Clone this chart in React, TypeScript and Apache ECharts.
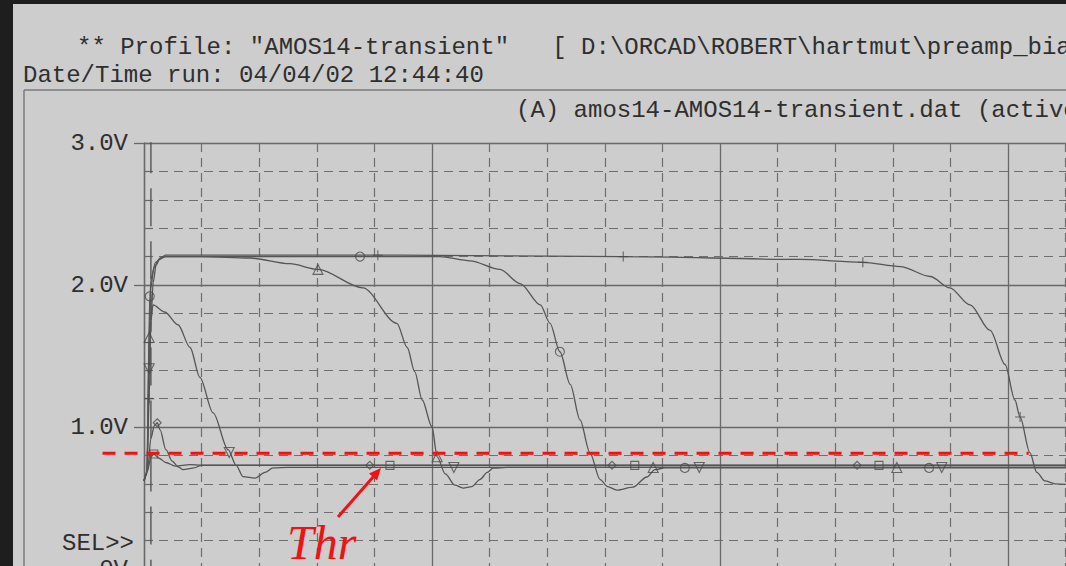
import React, { useEffect, useRef } from "react";
import * as echarts from "echarts";

// ---- axes ----
const TIME_MIN = 0;
const TIME_MAX = 20;
const TIME_MAJOR = 5;
const VOLT_MIN = 0;
const VOLT_MAX = 3;
const VOLT_MAJOR = 1;
const VOLT_MINOR = 0.2;

// ---- header texts ----
const PROFILE_LINE = '** Profile: "AMOS14-transient"   [ D:\\ORCAD\\ROBERT\\hartmut\\preamp_bias ]';
const DATE_LINE = "Date/Time run: 04/04/02 12:44:40";
const PLOT_TITLE = "(A) amos14-AMOS14-transient.dat (active)";
const SEL_LABEL = "SEL>>";
const THR_LABEL = "Thr";

// ---- threshold level (V) and its drawn extent in time ----
const THRESHOLD = 0.815;
const THRESHOLD_SPAN = [-0.72, 15.36];

// ---- traces: [time, volts] ----
const traceTriangle: number[][] = [
  [0, 0.62], [0.05, 0.67], [0.09, 1.63], [0.12, 1.98], [0.17, 2.12], [0.26, 2.18],
  [0.38, 2.2], [1.0, 2.2], [1.84, 2.19], [2.53, 2.15], [3.02, 2.11], [3.8, 1.98],
  [4.39, 1.73], [4.57, 1.56], [4.7, 1.39], [4.83, 1.19], [5.0, 1.0], [5.09, 0.79],
  [5.23, 0.67], [5.4, 0.59], [5.54, 0.57], [5.69, 0.58], [5.83, 0.63], [5.96, 0.68],
  [6.06, 0.71], [6.3, 0.715], [20, 0.715],
];
const traceCircle: number[][] = [
  [0, 0.62], [0.05, 0.67], [0.1, 1.92], [0.13, 2.06], [0.2, 2.16], [0.33, 2.2],
  [3.75, 2.2], [5.14, 2.2], [5.66, 2.17], [6.18, 2.11], [6.53, 2.01], [6.88, 1.86],
  [7.05, 1.73], [7.22, 1.53], [7.4, 1.3], [7.57, 1.05], [7.74, 0.82], [7.92, 0.63],
  [8.05, 0.58], [8.21, 0.556], [8.49, 0.577], [8.73, 0.648], [8.87, 0.7], [9.05, 0.712],
  [20, 0.712],
];
const tracePlus: number[][] = [
  [0, 0.62], [0.05, 0.67], [0.09, 1.2], [0.12, 1.75], [0.16, 2.02], [0.21, 2.14],
  [0.28, 2.19], [0.38, 2.21], [4.44, 2.21], [8.32, 2.2], [11.39, 2.18], [12.48, 2.16],
  [13.13, 2.13], [13.65, 2.06], [13.99, 1.98], [14.34, 1.86], [14.69, 1.68], [14.95, 1.44],
  [15.12, 1.19], [15.21, 1.07], [15.38, 0.82], [15.5, 0.68], [15.64, 0.62], [15.82, 0.6],
  [16.25, 0.59], [20, 0.59],
];
const traceInvTriangle: number[][] = [
  [0, 0.62], [0.05, 0.67], [0.09, 1.41], [0.12, 1.75], [0.156, 1.86], [0.36, 1.81],
  [0.59, 1.72], [0.8, 1.56], [0.97, 1.35], [1.2, 1.1], [1.46, 0.84], [1.6, 0.73],
  [1.72, 0.65], [1.93, 0.64], [2.1, 0.68], [2.24, 0.712], [2.5, 0.715], [20, 0.715],
];
const traceDiamond: number[][] = [
  [0, 0.62], [0.06, 0.69], [0.12, 0.92], [0.18, 1.01], [0.23, 1.03], [0.28, 0.98],
  [0.38, 0.84], [0.49, 0.76], [0.59, 0.72], [0.68, 0.7], [0.85, 0.71], [1.0, 0.73],
  [20, 0.73],
];
const traceSquare: number[][] = [
  [0, 0.62], [0.06, 0.69], [0.12, 0.79], [0.17, 0.81], [0.26, 0.78], [0.38, 0.75],
  [0.54, 0.725], [0.8, 0.735], [1.0, 0.732], [20, 0.732],
];
// stimulus edge, drawn with long dashes
const traceStimulus: number[][] = [
  [0.12, -0.2], [0.12, 3.3],
];

// ---- trace markers: [time, volts] ----
const markTriangle: number[][] = [[0.09, 1.63], [3.02, 2.11], [5.09, 0.79], [8.84, 0.715], [13.07, 0.715]];
const markCircle: number[][] = [[0.1, 1.92], [3.75, 2.2], [7.22, 1.53], [9.39, 0.712], [13.63, 0.712]];
const markInvTriangle: number[][] = [[0.09, 1.41], [1.48, 0.82], [5.38, 0.715], [9.64, 0.715], [13.85, 0.715]];
const markPlus: number[][] = [[0.09, 1.2], [4.06, 2.21], [8.32, 2.2], [12.48, 2.16], [15.21, 1.07]];
const markDiamond: number[][] = [[0.23, 1.03], [3.92, 0.73], [8.125, 0.73], [12.38, 0.73]];
const markSquare: number[][] = [[0.17, 0.81], [4.27, 0.73], [8.52, 0.73], [12.76, 0.73]];

const BG = "#cdcdcd";
const INK = "#2f2f2f";
const GRID_SOLID = "#696969";
const GRID_DASH = "#6f6f6f";
const TRACE = "#555555";
const RED = "#f01212";
const MONO = "'Liberation Mono', 'Courier New', monospace";

function traceSeries(name: string, data: number[][], extra: any = {}) {
  return {
    name,
    type: "line",
    data,
    showSymbol: false,
    symbol: "none",
    smooth: 0.3,
    smoothMonotone: "x",
    lineStyle: { color: TRACE, width: 1.3, ...(extra.lineStyle || {}) },
    z: 3,
    silent: true,
  };
}

function markerSeries(name: string, data: number[][], symbol: string, size: number, rotate = 0) {
  return {
    name,
    type: "scatter",
    data,
    symbol,
    symbolSize: size,
    symbolRotate: rotate,
    itemStyle: { color: "transparent", borderColor: "#4a4a4a", borderWidth: 1.1 },
    z: 4,
    silent: true,
  };
}

function buildOption() {
  return {
    animation: false,
    backgroundColor: BG,
    grid: {
      left: 144,
      top: 143,
      width: 1152,
      height: 426,
      containLabel: false,
      outerBoundsMode: "none",
    },
    xAxis: {
      type: "value",
      min: TIME_MIN,
      max: TIME_MAX,
      interval: TIME_MAJOR,
      axisLine: { show: false },
      axisTick: { show: false },
      axisLabel: { show: false },
      splitLine: { show: true, lineStyle: { color: GRID_SOLID, width: 1.3 } },
      minorTick: { show: false, splitNumber: 5 },
      minorSplitLine: { show: true, lineStyle: { color: GRID_DASH, width: 1.2, type: [9, 6] } },
    },
    yAxis: [
      {
        type: "value",
        min: VOLT_MIN,
        max: VOLT_MAX,
        interval: VOLT_MAJOR,
        position: "left",
        axisLine: { show: true, lineStyle: { color: GRID_SOLID, width: 1.3 } },
        axisTick: { show: true, inside: false, length: 10, lineStyle: { color: GRID_SOLID, width: 1.3 } },
        axisLabel: {
          margin: 16,
          color: INK,
          fontFamily: MONO,
          fontSize: 24,
          formatter: (v: number) => (v === 0 ? "0V" : v.toFixed(1) + "V"),
        },
        splitLine: { show: true, lineStyle: { color: GRID_SOLID, width: 1.3 } },
        minorTick: { show: false, splitNumber: 5 },
        minorSplitLine: { show: true, lineStyle: { color: GRID_DASH, width: 1.2, type: [9, 6] } },
      },
      {
        // small inward ticks on every minor division
        type: "value",
        min: VOLT_MIN,
        max: VOLT_MAX,
        interval: VOLT_MINOR,
        position: "left",
        axisLine: { show: false },
        axisTick: { show: true, inside: true, length: 9, lineStyle: { color: GRID_SOLID, width: 1.2 } },
        axisLabel: { show: false },
        splitLine: { show: false },
      },
    ],
    series: [
      traceSeries("stimulus", traceStimulus, { lineStyle: { type: [38, 15], width: 1.4 } }),
      traceSeries("V(tri)", traceTriangle),
      traceSeries("V(circ)", traceCircle),
      traceSeries("V(plus)", tracePlus),
      traceSeries("V(inv)", traceInvTriangle),
      traceSeries("V(dia)", traceDiamond),
      traceSeries("V(sq)", traceSquare),
      markerSeries("m-tri", markTriangle, "triangle", 10),
      markerSeries("m-circ", markCircle, "circle", 9),
      markerSeries("m-inv", markInvTriangle, "triangle", 10, 180),
      markerSeries("m-plus", markPlus, "path://M0,-5L0,5M-5,0L5,0", 10),
      markerSeries("m-dia", markDiamond, "diamond", 8),
      markerSeries("m-sq", markSquare, "rect", 8),
    ],
    graphic: [
      // window frame
      { id: "frameTop", type: "rect", shape: { x: 0, y: 0, width: 1066, height: 4 }, style: { fill: "#1e1e1e" }, z: 100 },
      { id: "frameLeft", type: "rect", shape: { x: 0, y: 0, width: 13, height: 566 }, style: { fill: "#1e1e1e" }, z: 100 },
      // plot window border
      { id: "borderTop", type: "line", shape: { x1: 24, y1: 90, x2: 1066, y2: 90 }, style: { stroke: "#7a7a7a", lineWidth: 1.5 }, z: 10 },
      { id: "borderLeft", type: "line", shape: { x1: 24, y1: 90, x2: 24, y2: 566 }, style: { stroke: "#7a7a7a", lineWidth: 1.5 }, z: 10 },
      {
        id: "profile", type: "text", x: 77, y: 47, z: 10,
        style: { text: PROFILE_LINE, fill: INK, font: `24px ${MONO}`, verticalAlign: "middle", align: "left" },
      },
      {
        id: "date", type: "text", x: 23, y: 75, z: 10,
        style: { text: DATE_LINE, fill: INK, font: `24px ${MONO}`, verticalAlign: "middle", align: "left" },
      },
      {
        id: "title", type: "text", x: 516, y: 110, z: 10,
        style: { text: PLOT_TITLE, fill: INK, font: `24px ${MONO}`, verticalAlign: "middle", align: "left" },
      },
      {
        id: "sel", type: "text", x: 134, y: 543, z: 10,
        style: { text: SEL_LABEL, fill: INK, font: `24px ${MONO}`, verticalAlign: "middle", align: "right" },
      },
      // threshold annotation
      {
        id: "thr", type: "text", x: 287, y: 542, z: 20,
        style: {
          text: THR_LABEL, fill: RED,
          font: "italic 48px 'Liberation Serif', 'DejaVu Serif', serif",
          verticalAlign: "middle", align: "left",
        },
      },
      { id: "thrArrow", type: "line", shape: { x1: 338, y1: 517, x2: 374, y2: 476 }, style: { stroke: RED, lineWidth: 3 }, z: 20 },
      {
        id: "thrHead",
        type: "polygon",
        shape: { points: [[381, 468], [377, 480.5], [369, 473.5]] },
        style: { fill: RED },
        z: 20,
      },
    ],
  };
}

export default function App() {
  const ref = useRef<HTMLDivElement>(null);
  useEffect(() => {
    if (!ref.current) return;
    const chart = echarts.init(ref.current, undefined, { renderer: "svg", width: 1066, height: 566 });
    chart.setOption(buildOption() as any);
    // threshold line reaches past the axis, so place it through the grid's scales
    const p0 = chart.convertToPixel({ gridIndex: 0 }, [THRESHOLD_SPAN[0], THRESHOLD]) as number[];
    const p1 = chart.convertToPixel({ gridIndex: 0 }, [THRESHOLD_SPAN[1], THRESHOLD]) as number[];
    chart.setOption({
      graphic: [
        {
          id: "threshold",
          type: "line",
          shape: { x1: p0[0], y1: p0[1], x2: p1[0], y2: p1[1] },
          style: { stroke: RED, lineWidth: 3, lineDash: [13, 9] },
          z: 15,
          silent: true,
        },
      ],
    } as any);
    return () => chart.dispose();
  }, []);
  return (
    <div
      ref={ref}
      style={{ position: "fixed", left: 0, top: 0, width: 1066, height: 566, overflow: "hidden", background: BG }}
    />
  );
}
